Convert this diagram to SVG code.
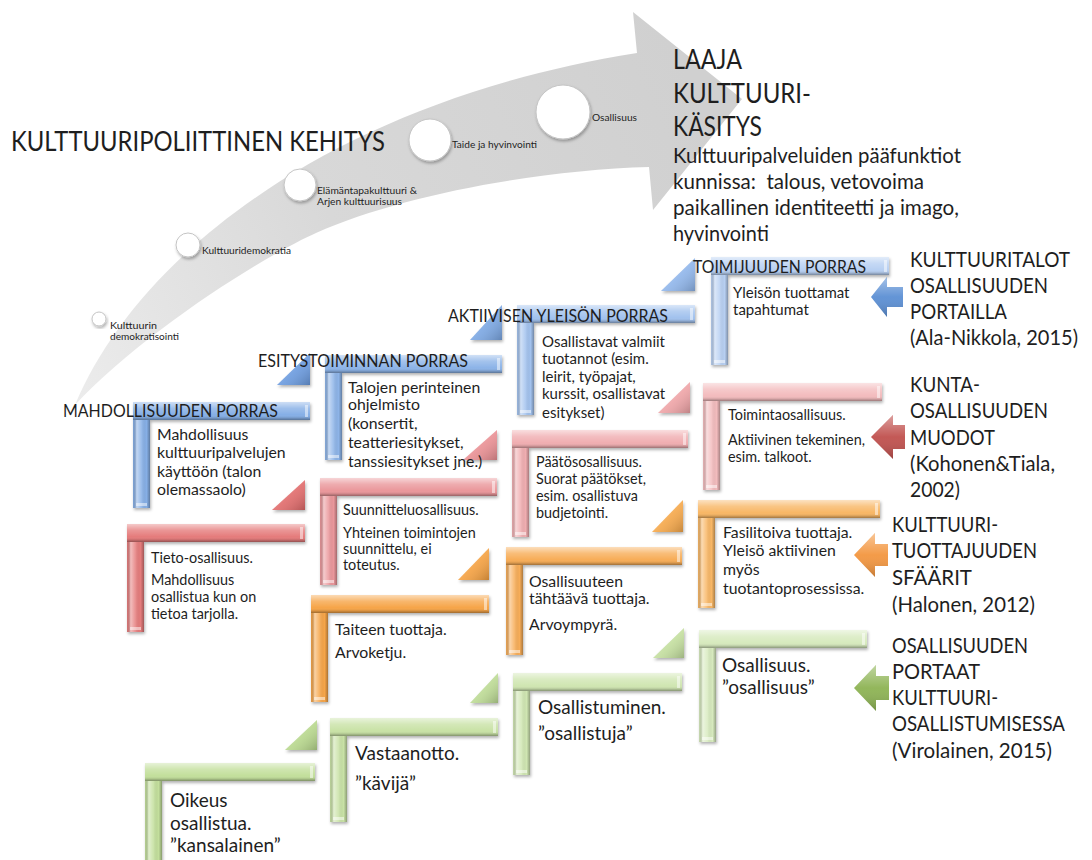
<svg xmlns="http://www.w3.org/2000/svg" width="1092" height="860" viewBox="0 0 1092 860">
<defs>
<style>
.t{font-family:Lato,'Open Sans','Liberation Sans',sans-serif;fill:#1e1e1e}
.h28{font-size:26px}
.h22{font-size:20.5px}
.lab{font-size:17.2px}
.tb{font-size:15.8px}
.tb2{font-size:15px}
.tr{font-size:14.4px}
.to{font-size:15.8px}
.tg{font-size:19px}
.ts{font-size:10px}
.cap{fill:#fff;opacity:.5}
.circ{fill:#fff;stroke:#c4c4c4;stroke-width:1;filter:url(#sh)}
.sh{filter:url(#sh)}
</style>
<linearGradient id="gh" x1="0" y1="0" x2="0" y2="1">
<stop offset="0" stop-color="#fff" stop-opacity=".6"/>
<stop offset=".35" stop-color="#fff" stop-opacity=".2"/>
<stop offset=".7" stop-color="#fff" stop-opacity="0"/>
<stop offset=".85" stop-color="#000" stop-opacity=".08"/>
<stop offset="1" stop-color="#000" stop-opacity=".35"/>
</linearGradient>
<linearGradient id="gv" x1="0" y1="0" x2="1" y2="0">
<stop offset="0" stop-color="#000" stop-opacity=".05"/>
<stop offset=".22" stop-color="#fff" stop-opacity=".5"/>
<stop offset=".5" stop-color="#fff" stop-opacity=".15"/>
<stop offset=".8" stop-color="#000" stop-opacity="0"/>
<stop offset="1" stop-color="#000" stop-opacity=".3"/>
</linearGradient>
<linearGradient id="gt" x1="0" y1="0" x2="1" y2="1">
<stop offset="0" stop-color="#fff" stop-opacity=".55"/>
<stop offset=".55" stop-color="#fff" stop-opacity=".1"/>
<stop offset="1" stop-color="#000" stop-opacity=".2"/>
</linearGradient>
<linearGradient id="ga" x1="0" y1="0" x2="0" y2="1">
<stop offset="0" stop-color="#fff" stop-opacity=".45"/>
<stop offset=".5" stop-color="#fff" stop-opacity=".05"/>
<stop offset="1" stop-color="#000" stop-opacity=".2"/>
</linearGradient>
<linearGradient id="gbig" gradientUnits="userSpaceOnUse" x1="75" y1="405" x2="700" y2="100">
<stop offset="0" stop-color="#ececec"/>
<stop offset=".45" stop-color="#d8d8d8"/>
<stop offset="1" stop-color="#d0d0d0"/>
</linearGradient>
<filter id="sh" x="-20%" y="-20%" width="140%" height="140%">
<feDropShadow dx="1" dy="2" stdDeviation="1.5" flood-color="#000" flood-opacity=".3"/>
</filter>
</defs>
<rect width="1092" height="860" fill="#fff"/>

<g id="connectors">
<path id="big-arrow" d="M75,405 C140,250 340,100 637,53 L633,12 L742,99 L653,210 L649,167 C540,170 400,195 316,233 C260,258 140,335 75,405 Z" fill="url(#gbig)"/>
<g id="arrow-blue"><path d="M871,297L887,277V287H903V307H887V317Z" fill="#5b8fd4"/><path d="M871,297L887,277V287H903V307H887V317Z" fill="url(#ga)"/></g>
<g id="arrow-red"><path d="M871,437L893,415V425H905V449H893V459Z" fill="#c0504d"/><path d="M871,437L893,415V425H905V449H893V459Z" fill="url(#ga)"/></g>
<g id="arrow-orange"><path d="M854,555L875,533V544H888V566H875V577Z" fill="#f3963f"/><path d="M854,555L875,533V544H888V566H875V577Z" fill="url(#ga)"/></g>
<g id="arrow-green"><path d="M854,688L876,665V676H889V700H876V711Z" fill="#8db353"/><path d="M854,688L876,665V676H889V700H876V711Z" fill="url(#ga)"/></g>
</g>

<g id="title"><text class="t h28" x="11" y="151" textLength="374" lengthAdjust="spacingAndGlyphs">KULTTUURIPOLIITTINEN KEHITYS</text></g>

<g id="c1"><circle class="circ" cx="99" cy="319" r="7"/><text class="t ts" x="110" y="329" textLength="47" lengthAdjust="spacingAndGlyphs">Kulttuurin</text><text class="t ts" x="110" y="340" textLength="69" lengthAdjust="spacingAndGlyphs">demokratisointi</text></g>
<g id="c2"><circle class="circ" cx="188" cy="245" r="12"/><text class="t ts" x="202" y="254" textLength="89" lengthAdjust="spacingAndGlyphs">Kulttuuridemokratia</text></g>
<g id="c3"><circle class="circ" cx="300" cy="185" r="16"/><text class="t ts" x="317" y="194" textLength="100" lengthAdjust="spacingAndGlyphs">Elämäntapakulttuuri &amp;</text><text class="t ts" x="317" y="205" textLength="85" lengthAdjust="spacingAndGlyphs">Arjen kulttuurisuus</text></g>
<g id="c4"><circle class="circ" cx="430" cy="140" r="21"/><text class="t ts" x="452" y="148" textLength="85" lengthAdjust="spacingAndGlyphs">Taide ja hyvinvointi</text></g>
<g id="c5"><circle class="circ" cx="563" cy="112" r="27"/><text class="t ts" x="592" y="121" textLength="45" lengthAdjust="spacingAndGlyphs">Osallisuus</text></g>

<g id="laaja">
<text class="t h28" x="673" y="69" textLength="69" lengthAdjust="spacingAndGlyphs">LAAJA</text>
<text class="t h28" x="673" y="103" textLength="138" lengthAdjust="spacingAndGlyphs">KULTTUURI-</text>
<text class="t h28" x="673" y="136" textLength="89" lengthAdjust="spacingAndGlyphs">KÄSITYS</text>
<text class="t h22" x="673" y="163" textLength="288" lengthAdjust="spacingAndGlyphs">Kulttuuripalveluiden pääfunktiot</text>
<text class="t h22" x="673" y="189" textLength="251" lengthAdjust="spacingAndGlyphs" xml:space="preserve">kunnissa:  talous, vetovoima</text>
<text class="t h22" x="673" y="215" textLength="286" lengthAdjust="spacingAndGlyphs">paikallinen identiteetti ja imago,</text>
<text class="t h22" x="673" y="241" textLength="96" lengthAdjust="spacingAndGlyphs">hyvinvointi</text>
</g>

<g id="ramps">
<path class="sh" d="M277,385L310,353V385Z" fill="#6a9ade"/><path d="M277,385L310,353V385Z" fill="url(#gt)"/>
<path class="sh" d="M470,340L502,305V340Z" fill="#7aa6e2"/><path d="M470,340L502,305V340Z" fill="url(#gt)"/>
<path class="sh" d="M661,291L695,258V291Z" fill="#8fb5ea"/><path d="M661,291L695,258V291Z" fill="url(#gt)"/>
<path class="sh" d="M272,510L305,480V510Z" fill="#e06a6a"/><path d="M272,510L305,480V510Z" fill="url(#gt)"/>
<path class="sh" d="M463,460L497,430V460Z" fill="#e98f93"/><path d="M463,460L497,430V460Z" fill="url(#gt)"/>
<path class="sh" d="M658,413L690,382V413Z" fill="#eea3a6"/><path d="M658,413L690,382V413Z" fill="url(#gt)"/>
<path class="sh" d="M458,580L489,548V580Z" fill="#f4a03f"/><path d="M458,580L489,548V580Z" fill="url(#gt)"/>
<path class="sh" d="M652,532L683,500V532Z" fill="#f5a748"/><path d="M652,532L683,500V532Z" fill="url(#gt)"/>
<path class="sh" d="M285,750L317,720V750Z" fill="#b7d78c"/><path d="M285,750L317,720V750Z" fill="url(#gt)"/>
<path class="sh" d="M470,703L498,673V703Z" fill="#bcda94"/><path d="M470,703L498,673V703Z" fill="url(#gt)"/>
<path class="sh" d="M653,658L684,628V658Z" fill="#c3de9e"/><path d="M653,658L684,628V658Z" fill="url(#gt)"/>
</g>

<g id="step-b1">
<path class="sh" d="M133,402H310V420H150V508H133Z" fill="#86afe6"/>
<rect x="133" y="402" width="177" height="18" fill="url(#gh)"/><rect x="133" y="420" width="17" height="88" fill="url(#gv)"/>
<rect class="cap" x="305" y="405" width="3" height="12"/><rect class="cap" x="136" y="503" width="11" height="3"/>
<text class="t lab" x="63" y="417" textLength="215" lengthAdjust="spacingAndGlyphs">MAHDOLLISUUDEN PORRAS</text>
<text class="t tb" x="157" y="440">Mahdollisuus</text>
<text class="t tb" x="157" y="458">kulttuuripalvelujen</text>
<text class="t tb" x="157" y="477">käyttöön (talon</text>
<text class="t tb" x="157" y="495">olemassaolo)</text>
</g>
<g id="step-b2">
<path class="sh" d="M325,355H502V373H342V460H325Z" fill="#8db4e8"/>
<rect x="325" y="355" width="177" height="18" fill="url(#gh)"/><rect x="325" y="373" width="17" height="87" fill="url(#gv)"/>
<rect class="cap" x="497" y="358" width="3" height="12"/><rect class="cap" x="328" y="455" width="11" height="3"/>
<text class="t lab" x="258" y="367" textLength="210" lengthAdjust="spacingAndGlyphs">ESITYSTOIMINNAN PORRAS</text>
<text class="t tb" x="348" y="393">Talojen perinteinen</text>
<text class="t tb" x="348" y="410">ohjelmisto</text>
<text class="t tb" x="348" y="429">(konsertit,</text>
<text class="t tb" x="348" y="448">teatteriesitykset,</text>
<text class="t tb" x="348" y="467">tanssiesitykset jne.)</text>
</g>
<g id="step-b3">
<path class="sh" d="M517,305H695V323H534V415H517Z" fill="#a2c2ee"/>
<rect x="517" y="305" width="178" height="18" fill="url(#gh)"/><rect x="517" y="323" width="17" height="92" fill="url(#gv)"/>
<rect class="cap" x="690" y="308" width="3" height="12"/><rect class="cap" x="520" y="410" width="11" height="3"/>
<text class="t lab" x="448" y="322" textLength="220" lengthAdjust="spacingAndGlyphs">AKTIIVISEN YLEISÖN PORRAS</text>
<text class="t tb2" x="542" y="347">Osallistavat valmiit</text>
<text class="t tb2" x="542" y="364">tuotannot (esim.</text>
<text class="t tb2" x="542" y="382">leirit, työpajat,</text>
<text class="t tb2" x="542" y="399">kurssit, osallistavat</text>
<text class="t tb2" x="542" y="418">esitykset)</text>
</g>
<g id="step-b4">
<path class="sh" d="M711,257H889V275H728V365H711Z" fill="#b8d0f2"/>
<rect x="711" y="257" width="178" height="18" fill="url(#gh)"/><rect x="711" y="275" width="17" height="90" fill="url(#gv)"/>
<rect class="cap" x="884" y="260" width="3" height="12"/><rect class="cap" x="714" y="360" width="11" height="3"/>
<text class="t lab" x="693" y="273" textLength="173" lengthAdjust="spacingAndGlyphs">TOIMIJUUDEN PORRAS</text>
<text class="t tb2" x="733" y="298">Yleisön tuottamat</text>
<text class="t tb2" x="733" y="315">tapahtumat</text>
</g>

<g id="step-r1">
<path class="sh" d="M127,524H305V542H144V632H127Z" fill="#e57c7c"/>
<rect x="127" y="524" width="178" height="18" fill="url(#gh)"/><rect x="127" y="542" width="17" height="90" fill="url(#gv)"/>
<rect class="cap" x="300" y="527" width="3" height="12"/><rect class="cap" x="130" y="627" width="11" height="3"/>
<text class="t tr" x="151" y="563">Tieto-osallisuus.</text>
<text class="t tr" x="151" y="585">Mahdollisuus</text>
<text class="t tr" x="151" y="602">osallistua kun on</text>
<text class="t tr" x="151" y="619">tietoa tarjolla.</text>
</g>
<g id="step-r2">
<path class="sh" d="M320,478H497V496H337V585H320Z" fill="#ea979b"/>
<rect x="320" y="478" width="177" height="18" fill="url(#gh)"/><rect x="320" y="496" width="17" height="89" fill="url(#gv)"/>
<rect class="cap" x="492" y="481" width="3" height="12"/><rect class="cap" x="323" y="580" width="11" height="3"/>
<text class="t tr" x="343" y="515">Suunnitteluosallisuus.</text>
<text class="t tr" x="343" y="538">Yhteinen toimintojen</text>
<text class="t tr" x="343" y="554">suunnittelu, ei</text>
<text class="t tr" x="343" y="570">toteutus.</text>
</g>
<g id="step-r3">
<path class="sh" d="M512,430H688V448H529V537H512Z" fill="#f0aeb1"/>
<rect x="512" y="430" width="176" height="18" fill="url(#gh)"/><rect x="512" y="448" width="17" height="89" fill="url(#gv)"/>
<rect class="cap" x="683" y="433" width="3" height="12"/><rect class="cap" x="515" y="532" width="11" height="3"/>
<text class="t tr" x="536" y="467">Päätösosallisuus.</text>
<text class="t tr" x="536" y="484">Suorat päätökset,</text>
<text class="t tr" x="536" y="501">esim. osallistuva</text>
<text class="t tr" x="536" y="518">budjetointi.</text>
</g>
<g id="step-r4">
<path class="sh" d="M703,383H882V401H720V490H703Z" fill="#f3bcbe"/>
<rect x="703" y="383" width="179" height="18" fill="url(#gh)"/><rect x="703" y="401" width="17" height="89" fill="url(#gv)"/>
<rect class="cap" x="877" y="386" width="3" height="12"/><rect class="cap" x="706" y="485" width="11" height="3"/>
<text class="t tr" x="728" y="420">Toimintaosallisuus.</text>
<text class="t tr" x="728" y="445">Aktiivinen tekeminen,</text>
<text class="t tr" x="728" y="462">esim. talkoot.</text>
</g>

<g id="step-o1">
<path class="sh" d="M311,595H489V613H328V702H311Z" fill="#f6a54a"/>
<rect x="311" y="595" width="178" height="18" fill="url(#gh)"/><rect x="311" y="613" width="17" height="89" fill="url(#gv)"/>
<rect class="cap" x="484" y="598" width="3" height="12"/><rect class="cap" x="314" y="697" width="11" height="3"/>
<text class="t to" x="335" y="635">Taiteen tuottaja.</text>
<text class="t to" x="335" y="658">Arvoketju.</text>
</g>
<g id="step-o2">
<path class="sh" d="M506,547H682V565H523V655H506Z" fill="#f7ad58"/>
<rect x="506" y="547" width="176" height="18" fill="url(#gh)"/><rect x="506" y="565" width="17" height="90" fill="url(#gv)"/>
<rect class="cap" x="677" y="550" width="3" height="12"/><rect class="cap" x="509" y="650" width="11" height="3"/>
<text class="t to" x="529" y="587">Osallisuuteen</text>
<text class="t to" x="529" y="604">tähtäävä tuottaja.</text>
<text class="t to" x="529" y="630">Arvoympyrä.</text>
</g>
<g id="step-o3">
<path class="sh" d="M698,500H880V518H715V608H698Z" fill="#f8b766"/>
<rect x="698" y="500" width="182" height="18" fill="url(#gh)"/><rect x="698" y="518" width="17" height="90" fill="url(#gv)"/>
<rect class="cap" x="875" y="503" width="3" height="12"/><rect class="cap" x="701" y="603" width="11" height="3"/>
<text class="t to" x="723" y="538">Fasilitoiva tuottaja.</text>
<text class="t to" x="723" y="556">Yleisö aktiivinen</text>
<text class="t to" x="723" y="575">myös</text>
<text class="t to" x="723" y="594">tuotantoprosessissa.</text>
</g>

<g id="step-g1">
<path class="sh" d="M145,763H315V781H162V863H145Z" fill="#c3df9c"/>
<rect x="145" y="763" width="170" height="18" fill="url(#gh)"/><rect x="145" y="781" width="17" height="82" fill="url(#gv)"/>
<rect class="cap" x="310" y="766" width="3" height="12"/>
<text class="t tg" x="170" y="807">Oikeus</text>
<text class="t tg" x="170" y="830">osallistua.</text>
<text class="t tg" x="170" y="852">”kansalainen”</text>
</g>
<g id="step-g2">
<path class="sh" d="M330,718H498V736H347V822H330Z" fill="#c9e2a6"/>
<rect x="330" y="718" width="168" height="18" fill="url(#gh)"/><rect x="330" y="736" width="17" height="86" fill="url(#gv)"/>
<rect class="cap" x="493" y="721" width="3" height="12"/><rect class="cap" x="333" y="817" width="11" height="3"/>
<text class="t tg" x="355" y="760">Vastaanotto.</text>
<text class="t tg" x="355" y="790">”kävijä”</text>
</g>
<g id="step-g3">
<path class="sh" d="M513,673H682V691H530V775H513Z" fill="#d0e6b2"/>
<rect x="513" y="673" width="169" height="18" fill="url(#gh)"/><rect x="513" y="691" width="17" height="84" fill="url(#gv)"/>
<rect class="cap" x="677" y="676" width="3" height="12"/><rect class="cap" x="516" y="770" width="11" height="3"/>
<text class="t tg" x="538" y="714">Osallistuminen.</text>
<text class="t tg" x="538" y="740">”osallistuja”</text>
</g>
<g id="step-g4">
<path class="sh" d="M699,630H867V648H716V742H699Z" fill="#d7eabe"/>
<rect x="699" y="630" width="168" height="18" fill="url(#gh)"/><rect x="699" y="648" width="17" height="94" fill="url(#gv)"/>
<rect class="cap" x="862" y="633" width="3" height="12"/><rect class="cap" x="702" y="737" width="11" height="3"/>
<text class="t tg" x="722" y="672">Osallisuus.</text>
<text class="t tg" x="722" y="694">”osallisuus”</text>
</g>

<g id="legend-ala-nikkola">
<text class="t h22" x="910" y="267" textLength="160" lengthAdjust="spacingAndGlyphs">KULTTUURITALOT</text>
<text class="t h22" x="910" y="293" textLength="138" lengthAdjust="spacingAndGlyphs">OSALLISUUDEN</text>
<text class="t h22" x="910" y="319" textLength="97" lengthAdjust="spacingAndGlyphs">PORTAILLA</text>
<text class="t h22" x="910" y="345" textLength="168" lengthAdjust="spacingAndGlyphs">(Ala-Nikkola, 2015)</text>
</g>
<g id="legend-kohonen">
<text class="t h22" x="910" y="392" textLength="70" lengthAdjust="spacingAndGlyphs">KUNTA-</text>
<text class="t h22" x="910" y="418" textLength="138" lengthAdjust="spacingAndGlyphs">OSALLISUUDEN</text>
<text class="t h22" x="910" y="445" textLength="85" lengthAdjust="spacingAndGlyphs">MUODOT</text>
<text class="t h22" x="910" y="471" textLength="145" lengthAdjust="spacingAndGlyphs">(Kohonen&amp;Tiala,</text>
<text class="t h22" x="910" y="497" textLength="50" lengthAdjust="spacingAndGlyphs">2002)</text>
</g>
<g id="legend-halonen">
<text class="t h22" x="892" y="532" textLength="106" lengthAdjust="spacingAndGlyphs">KULTTUURI-</text>
<text class="t h22" x="892" y="558" textLength="145" lengthAdjust="spacingAndGlyphs">TUOTTAJUUDEN</text>
<text class="t h22" x="892" y="585">SFÄÄRIT</text>
<text class="t h22" x="892" y="612" textLength="143" lengthAdjust="spacingAndGlyphs">(Halonen, 2012)</text>
</g>
<g id="legend-virolainen">
<text class="t h22" x="892" y="653" textLength="136" lengthAdjust="spacingAndGlyphs">OSALLISUUDEN</text>
<text class="t h22" x="892" y="679" textLength="88" lengthAdjust="spacingAndGlyphs">PORTAAT</text>
<text class="t h22" x="892" y="705" textLength="106" lengthAdjust="spacingAndGlyphs">KULTTUURI-</text>
<text class="t h22" x="892" y="731" textLength="173" lengthAdjust="spacingAndGlyphs">OSALLISTUMISESSA</text>
<text class="t h22" x="892" y="758" textLength="160" lengthAdjust="spacingAndGlyphs">(Virolainen, 2015)</text>
</g>
</svg>
